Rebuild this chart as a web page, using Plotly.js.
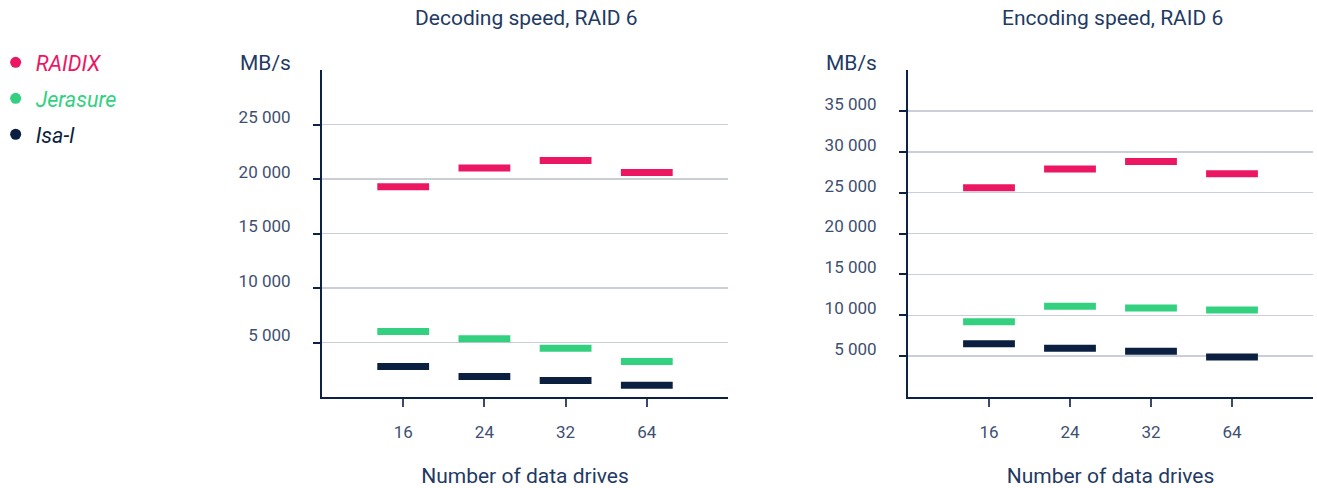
<!DOCTYPE html>
<html>
<head>
<meta charset="utf-8">
<script src="https://cdn.plot.ly/plotly-3.0.1.min.js"></script>
<style>html,body{margin:0;padding:0;background:#fff;}#chart{width:1317px;height:488px;}</style>
</head>
<body>
<div id="chart"></div>
<script>
const categories = ['16', '24', '32', '64'];
const seriesNames = ['RAIDIX', 'Jerasure', 'Isa-l'];
const seriesColors = ['#ec1763', '#33d17f', '#0b1f40'];
const decodingRaidix = [19300, 21000, 21700, 20600];
const decodingJerasure = [6000, 5350, 4470, 3250];
const decodingIsal = [2800, 1870, 1510, 1070];
const encodingRaidix = [25600, 27900, 28800, 27300];
const encodingJerasure = [9200, 11100, 10900, 10650];
const encodingIsal = [6500, 5950, 5600, 4900];
const decodingTicks = [5000, 10000, 15000, 20000, 25000];
const encodingTicks = [5000, 10000, 15000, 20000, 25000, 30000, 35000];

const navy = '#0d2144';
const textCol = '#1f3a63';
const tickCol = '#3e4f70';
const gridCol = '#c9ced8';

function dashTrace(y, idx, xa, ya) {
  return {
    type: 'scatter', mode: 'markers', x: categories, y: y,
    xaxis: xa, yaxis: ya, showlegend: false, hoverinfo: 'y',
    marker: {symbol: 'line-ew', size: 37, color: seriesColors[idx],
             line: {color: seriesColors[idx], width: 7}}
  };
}
const traces = [
  dashTrace(decodingRaidix, 0, 'x', 'y'),
  dashTrace(decodingJerasure, 1, 'x', 'y'),
  dashTrace(decodingIsal, 2, 'x', 'y'),
  dashTrace(encodingRaidix, 0, 'x2', 'y2'),
  dashTrace(encodingJerasure, 1, 'x2', 'y2'),
  dashTrace(encodingIsal, 2, 'x2', 'y2')
];
seriesNames.forEach((n, i) => {
  traces.push({
    type: 'scatter', mode: 'markers', x: [null], y: [null], xaxis: 'x', yaxis: 'y',
    name: '<span style="color:' + seriesColors[i] + '"><i>' + n + '</i></span>',
    legendgroup: 'g' + i, showlegend: true,
    marker: {symbol: 'circle', size: 11, color: seriesColors[i]}
  });
});

function xAxis(domain, anchor) {
  return {
    domain: domain, anchor: anchor, type: 'category', range: [-1, 4],
    showline: true, linecolor: navy, linewidth: 2, showgrid: false, zeroline: false,
    ticks: 'outside', ticklen: 8, tickwidth: 2, tickcolor: '#3a4a68',
    tickfont: {family: 'Roboto', size: 17, color: tickCol},
    ticklabelstandoff: 11, automargin: false,
    title: {text: 'Number of data drives', font: {family: 'Roboto', size: 21, color: textCol}, standoff: 27}
  };
}
function yAxis(range, ticks, anchor) {
  return {
    anchor: anchor, range: range, tickmode: 'array', tickvals: ticks,
    showline: true, linecolor: navy, linewidth: 2,
    showgrid: true, gridcolor: gridCol, gridwidth: 1.5, zeroline: false,
    ticks: 'outside', ticklen: 7, tickwidth: 2, tickcolor: navy,
    tickfont: {family: 'Roboto', size: 17, color: tickCol},
    ticklabelstandoff: 19, ticklabelshift: -7, automargin: false,
    tickformat: ',d'
  };
}

const layout = {
  width: 1317, height: 488,
  margin: {l: 0, r: 0, t: 70, b: 91, autoexpand: false},
  paper_bgcolor: '#fff', plot_bgcolor: '#fff',
  separators: '. ',
  font: {family: 'Roboto', color: textCol},
  showlegend: true,
  legend: {x: -0.0033, y: 1.086, xanchor: 'left', yanchor: 'top', traceorder: 'grouped',
           tracegroupgap: 5, font: {family: 'Roboto', size: 21.5}, bgcolor: 'rgba(0,0,0,0)'},
  xaxis: xAxis([322/1317, 728/1317], 'y'),
  yaxis: yAxis([0, 30000], decodingTicks, 'x'),
  xaxis2: xAxis([908/1317, 1313/1317], 'y2'),
  yaxis2: yAxis([0, 40000], encodingTicks, 'x2'),
  annotations: [
    {text: 'Decoding speed, RAID 6', xref: 'paper', yref: 'paper', x: 526/1317, y: 1, yshift: 52,
     xanchor: 'center', yanchor: 'middle', showarrow: false, font: {family: 'Roboto', size: 21, color: textCol}},
    {text: 'Encoding speed, RAID 6', xref: 'paper', yref: 'paper', x: 1112/1317, y: 1, yshift: 52,
     xanchor: 'center', yanchor: 'middle', showarrow: false, font: {family: 'Roboto', size: 21, color: textCol}},
    {text: 'MB/s', xref: 'paper', yref: 'paper', x: 265/1317, y: 1, yshift: 7,
     xanchor: 'center', yanchor: 'middle', showarrow: false, font: {family: 'Roboto', size: 21, color: textCol}},
    {text: 'MB/s', xref: 'paper', yref: 'paper', x: 851/1317, y: 1, yshift: 7,
     xanchor: 'center', yanchor: 'middle', showarrow: false, font: {family: 'Roboto', size: 21, color: textCol}}
  ]
};

Plotly.newPlot('chart', traces, layout, {displayModeBar: false, staticPlot: true});
</script>
</body>
</html>
